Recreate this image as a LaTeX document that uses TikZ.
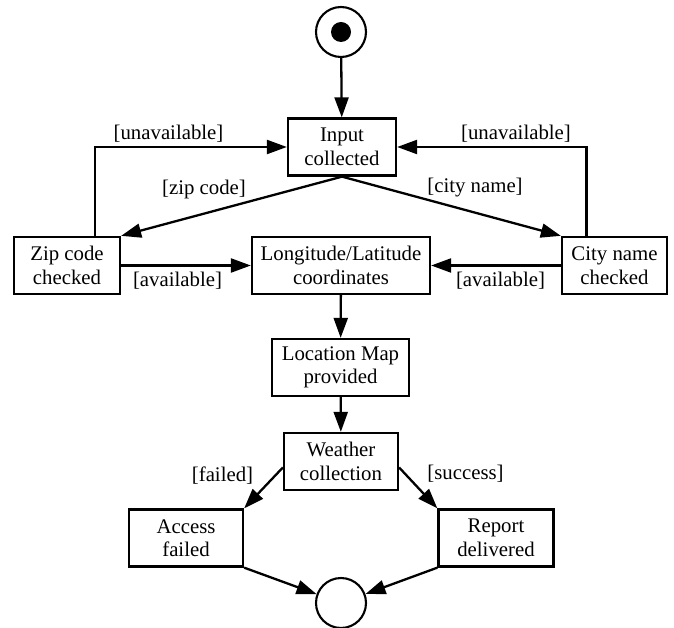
\documentclass[tikz,border=0pt]{standalone}
\usepackage{fontspec}
\setmainfont{Liberation Serif}
\usetikzlibrary{arrows.meta}
\begin{document}
\begin{tikzpicture}[x=1pt,y=-1pt,
  every node/.style={font=\fontsize{20.8}{23.5}\selectfont},
  state/.style={draw, line width=2.3pt, align=center, inner sep=0pt, minimum height=57pt},
  terminal/.style={circle, draw, line width=2.1pt, minimum size=50pt, inner sep=0pt},
  flow/.style={line width=2.3pt, -{Triangle[length=20pt,width=14pt]}},
  guard/.style={inner sep=0pt}]
\useasboundingbox (0,0) rectangle (674,628);

% initial and final states
\node[terminal] (start) at (341,32) {};
\fill (start.center) circle[radius=10pt];
\node[terminal] (end) at (341,603) {};

% activity states
\node[state, minimum width=108pt] (input)   at (342,147)     {Input\\collected};
\node[state, minimum width=106pt] (zip)     at (67,265.5)    {Zip code\\checked};
\node[state, minimum width=178pt] (lonlat)  at (341,265.5)   {Longitude/Latitude\\coordinates};
\node[state, minimum width=105pt] (city)    at (614.5,265.5) {City name\\checked};
\node[state, minimum width=137pt] (map)     at (340.5,367.5) {Location Map\\provided};
\node[state, minimum width=114pt] (weather) at (341,461.5)   {Weather\\collection};
\node[state, minimum width=114pt] (access)  at (186,538)     {Access\\failed};
\node[state, minimum width=115pt] (report)  at (496,538)     {Report\\delivered};

% transitions
\draw[flow] (start) -- (input);
\draw[flow] (input.south) -- (zip.north east);
\draw[flow] (input.south) -- (city.north west);
\draw[flow] ([xshift=28pt]zip.north) |- (input.west);
\draw[flow] ([xshift=-28pt]city.north) |- (input.east);
\draw[flow] (zip.east) -- (lonlat.west);
\draw[flow] (city.west) -- (lonlat.east);
\draw[flow] (lonlat) -- (map);
\draw[flow] (map) -- (weather);
\draw[flow] ([yshift=-6pt]weather.west) -- (access.north east);
\draw[flow] ([yshift=-6pt]weather.east) -- (report.north west);
\draw[flow] (access.south east) -- (end);
\draw[flow] (report.south west) -- (end);

% guard labels
\node[guard] (g1) at (168.5,134) {[unavailable]};
\node[guard] (g2) at (516,134)   {[unavailable]};
\node[guard] (g3) at (204,189)   {[zip code]};
\node[guard] (g4) at (475,188)   {[city name]};
\node[guard] (g5) at (177.5,281) {[available]};
\node[guard] (g6) at (500.5,281) {[available]};
\node[guard] (g7) at (222.5,476) {[failed]};
\node[guard] (g8) at (465.5,474) {[success]};
\end{tikzpicture}
\end{document}
